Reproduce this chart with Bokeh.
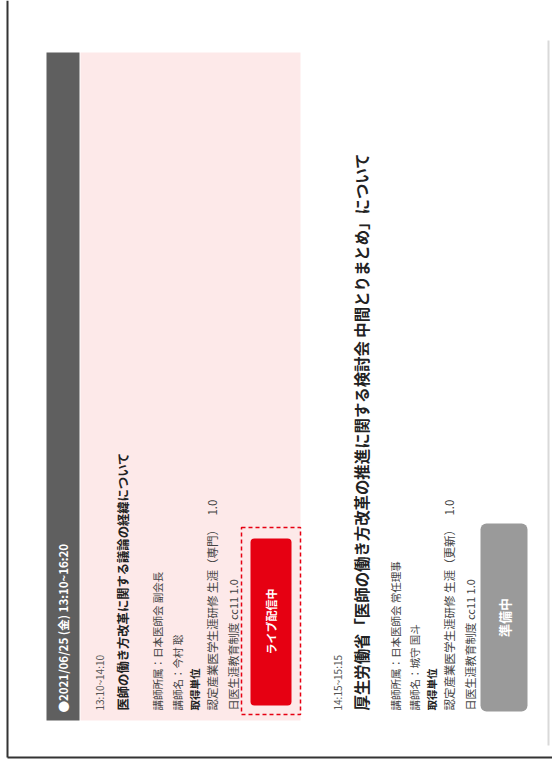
from math import pi
from bokeh.plotting import figure
from bokeh.models import Range1d
from bokeh.core.properties import value
from bokeh.embed import file_html
from bokeh.resources import INLINE

FONT = "Noto Sans CJK JP"

# ---- content (texts) ----
date_header = "●2021/06/25 (金)   13:10~16:20"
times = ["13:10~14:10", "14:15~15:15"]
titles = ["医師の働き方改革に関する議論の経緯について",
          "厚生労働省「医師の働き方改革の推進に関する検討会 中間とりまとめ」について"]
affiliations = ["講師所属：日本医師会 副会長", "講師所属：日本医師会 常任理事"]
speakers = ["講師名：今村 聡", "講師名：城守 国斗"]
unit_label = "取得単位"
units_1 = ["認定産業医学生涯研修 生涯（専門）　 1.0", "認定産業医学生涯研修 生涯（更新）　 1.0"]
units_2 = ["日医生涯教育制度 cc11  1.0", "日医生涯教育制度 cc11  1.0"]
buttons = ["ライブ配信中", "準備中"]

W, H = 552, 767
p = figure(width=W, height=H, output_backend="svg", toolbar_location=None,
           x_range=Range1d(0, W), y_range=Range1d(H, 0),
           min_border=0, background_fill_color="white", border_fill_color="white")
p.axis.visible = False
p.grid.visible = False
p.outline_line_color = None

# frame lines
p.segment(x0=[7], y0=[0], x1=[7], y1=[757], line_color="#333333", line_width=2)
p.segment(x0=[7], y0=[757], x1=[552], y1=[757], line_color="#333333", line_width=2)
# right light border of page
p.segment(x0=[548], y0=[40], x1=[548], y1=[745], line_color="#d9d9d9", line_width=2)

# header bar and pink card
p.quad(left=[46], right=[79], top=[52], bottom=[720], fill_color="#5f5f5f", line_color=None)
p.quad(left=[80], right=[300], top=[52], bottom=[720], fill_color="#fde9e9", line_color=None)

ang = pi / 2
y0 = 710

def txt(x, y, s, size, color="#333333", bold=False, align="left"):
    p.text(x=[x], y=[y], text=[s], angle=ang, text_font=value(FONT),
           text_font_size=f"{size}px", text_color=color,
           text_font_style="bold" if bold else "normal",
           text_align=align, text_baseline="middle")

txt(62, 712, date_header, 11.5, color="white", bold=True)

cols = [
    [99, 122, 157, 177, 194, 211, 232],
    [337, 360, 395, 414, 431, 448, 469],
]
title_sizes = [12.3, 15.4]
for i in range(2):
    c = cols[i]
    txt(c[0], y0, times[i], 10, color="#555555")
    txt(c[1], y0, titles[i], title_sizes[i], color="#222222", bold=True)
    txt(c[2], y0, affiliations[i], 10.5, color="#444444")
    txt(c[3], y0, speakers[i], 10.5, color="#444444")
    txt(c[4], y0, unit_label, 10.5, color="#222222", bold=True)
    txt(c[5], y0, units_1[i], 11.5, color="#444444")
    txt(c[6], y0, units_2[i], 11, color="#444444")

# buttons
p.quad(left=[250], right=[291], top=[538], bottom=[705], fill_color="#e60012",
       line_color=None, border_radius=4)
p.quad(left=[241], right=[300], top=[527], bottom=[714], fill_alpha=0,
       line_color="#e60012", line_dash="4 3", line_width=1.5)
txt(270.5, 621, buttons[0], 11, color="white", bold=True, align="center")

p.quad(left=[480], right=[527], top=[523], bottom=[711], fill_color="#9a9a9a",
       line_color=None, border_radius=6)
txt(503.5, 617, buttons[1], 13, color="white", bold=True, align="center")

open("out.html", "w").write(file_html(p, INLINE))
